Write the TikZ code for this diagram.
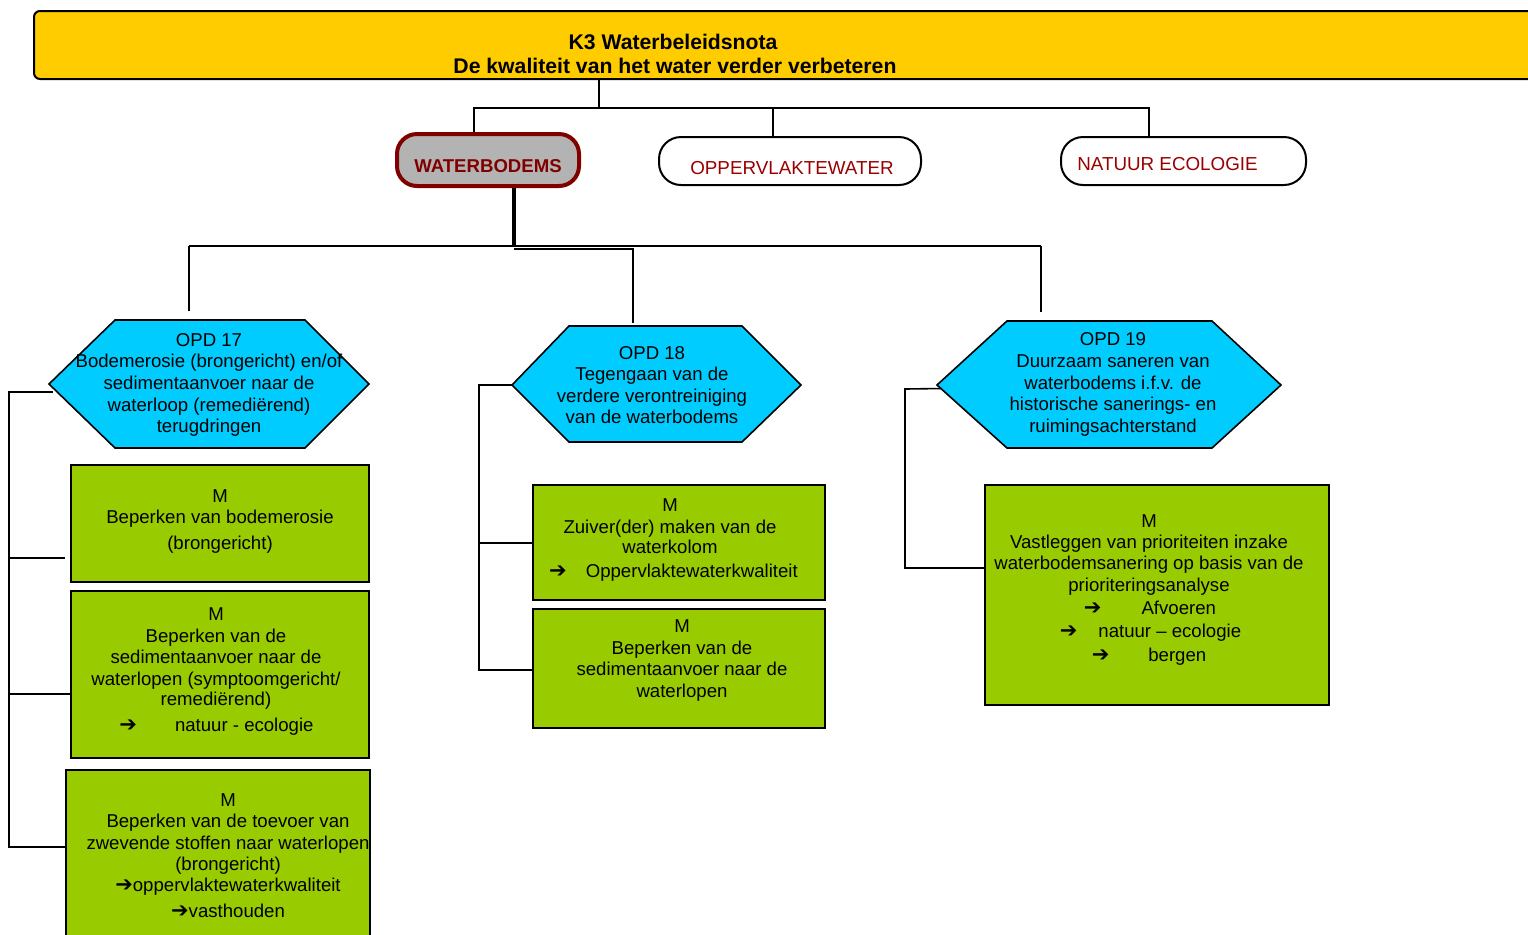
\documentclass[tikz,border=0pt]{standalone}
\usepackage{fontspec}
\setmainfont{Liberation Sans}
\newfontfamily\arrfont{DejaVu Sans}
\usetikzlibrary{calc}
\definecolor{banc}{HTML}{FFCC00}
\definecolor{hexc}{HTML}{00CCFF}
\definecolor{grn}{HTML}{99CC00}
\definecolor{dred}{HTML}{800000}
\definecolor{tred}{HTML}{990000}
\definecolor{wbg}{HTML}{B3B3B3}
\newcommand\arw{{\fontsize{10.5}{10}\arrfont\bfseries ➔}}
\newcommand\dnbox[2]{\raisebox{-#1}[\height][\depth]{#2}}
\newcommand\sh[1]{\hspace*{#1}}
\begin{document}
\begin{tikzpicture}[x=0.5pt,y=-0.5pt,
  conn/.style={draw=black,line width=0.8pt},
  thickconn/.style={draw=black,line width=2pt},
  bodyfont/.style={font=\fontsize{9.3}{10.8}\selectfont},
  hexshape/.style={draw=black,line width=0.8pt,fill=hexc,line join=miter},
  hextext/.style={bodyfont,align=center,inner sep=0pt},
  box/.style={draw=black,line width=1pt,fill=grn,rectangle,inner sep=0pt,align=center,bodyfont},
  pill/.style={rectangle,rounded corners=11pt,draw=black,line width=1pt,fill=white,inner sep=0pt,
    font=\fontsize{9.4}{11}\selectfont,text=tred,minimum height=24pt}
]
\useasboundingbox (0,0) rectangle (1528,934);

% banner
\node[draw=black,line width=1pt,fill=banc,rounded corners=3pt,minimum width=800pt,minimum height=34pt,
  inner sep=0pt,anchor=north west] (banner) at (33,10) {};
\node[font=\bfseries\fontsize{10.6}{12}\selectfont,align=center,inner sep=0pt] (title) at (675,54)
  {\sh{-2pt}K3 Waterbeleidsnota\\De kwaliteit van het water verder verbeteren};

% themes
\node[rectangle,rounded corners=10pt,draw=dred,line width=2pt,fill=wbg,minimum width=91pt,minimum height=26pt,
  inner sep=0pt,font=\bfseries\fontsize{9.3}{11}\selectfont,text=dred] (wb) at (488,160) {\dnbox{3pt}{WATERBODEMS}};
\node[pill,minimum width=131pt] (opp) at (790,161) {\kern2pt\dnbox{3.5pt}{OPPERVLAKTEWATER}};
\node[pill,minimum width=122.5pt] (nat) at (1183.5,161) {\dnbox{1.5pt}{NATUUR ECOLOGIE}\kern16pt};

% hexagons
\filldraw[hexshape] (49,384) -- (115,320) -- (305,320) -- (369,384) -- (305,448) -- (115,448) -- cycle;
\filldraw[hexshape] (512,385) -- (569,326) -- (742,326) -- (801,385) -- (742,442) -- (569,442) -- cycle;
\filldraw[hexshape] (937,385) -- (1007,321) -- (1212,321) -- (1281,385) -- (1212,448) -- (1007,448) -- cycle;

\node[hextext,minimum width=160pt,minimum height=64pt,text depth=1pt] (h17) at (209,384)
  {OPD 17\\Bodemerosie (brongericht) en/of\\sedimentaanvoer naar de\\waterloop (remediërend)\\terugdringen};
\node[hextext,minimum width=144.5pt,minimum height=58pt] (h18) at (656.5,385)
  {\sh{-4.5pt}OPD 18\\\sh{-4.5pt}Tegengaan van de\\\sh{-4.5pt}verdere verontreiniging\\\sh{-4.5pt}van de waterbodems};
\node[hextext,minimum width=172pt,minimum height=63.5pt] (h19) at (1109,384.5)
  {\sh{4pt}OPD 19\\\sh{4pt}Duurzaam saneren van\\\sh{4pt}waterbodems i.f.v. de\\\sh{4pt}historische sanerings- en\\\sh{4pt}ruimingsachterstand};

% measure boxes
\node[box,minimum width=149pt,minimum height=58.5pt,text depth=4pt] (b1) at (220,523.5)
  {M\\Beperken van bodemerosie\\[2pt](brongericht)};
\node[box,minimum width=149pt,minimum height=83.5pt,text depth=5pt] (b2) at (220,674.5)
  {\sh{-4pt}M\\\sh{-4pt}Beperken van de\\\sh{-4pt}sedimentaanvoer naar de\\\sh{-4pt}waterlopen (symptoomgericht/\\[-0.5pt]\sh{-4pt}remediërend)\\[2pt]\sh{-3.5pt}\arw\hspace{19pt}natuur - ecologie};
\node[box,minimum width=152pt,minimum height=85.5pt,anchor=north west] (b3) at (65,769)
  {\sh{10pt}M\\\sh{10pt}Beperken van de toevoer van\\\sh{10pt}zwevende stoffen naar waterlopen\\[-0.5pt]\sh{10pt}(brongericht)\\\sh{10pt}\arw oppervlaktewaterkwaliteit\\[2pt]\sh{10pt}\arw vasthouden};
\node[box,minimum width=146pt,minimum height=57.5pt,text depth=4.5pt] (b4) at (679,542.5)
  {\sh{-9pt}M\\\sh{-9pt}Zuiver(der) maken van de\\[-0.5pt]\sh{-9pt}waterkolom\\[1pt]\sh{-5.5pt}\arw\hspace{9.5pt}Oppervlaktewaterkwaliteit};
\node[box,minimum width=146pt,minimum height=59.5pt,text depth=10pt] (b5) at (679,668.5)
  {\sh{3pt}M\\\sh{3pt}Beperken van de\\\sh{3pt}sedimentaanvoer naar de\\\sh{3pt}waterlopen};
\node[box,minimum width=172pt,minimum height=110pt,text depth=7pt] (b6) at (1157,595)
  {\sh{-8pt}M\\[-0.5pt]\sh{-8pt}Vastleggen van prioriteiten inzake\\\sh{-8pt}waterbodemsanering op basis van de\\\sh{-8pt}prioriteringsanalyse\\[0.5pt]
   \sh{-7pt}\arw\hspace{20pt}Afvoeren\\[1pt]\sh{-6.5pt}\arw\hspace{10.5pt}natuur – ecologie\\[1pt]\sh{-8pt}\arw\hspace{19.5pt}bergen};

% top connectors
\draw[conn] (banner.south -| 599,0) -- (599,108);
\draw[conn] (wb.north -| 474,0) |- (1149,108) -- (nat.north -| 1149,0);
\draw[conn] (773,108) -- (opp.north -| 773,0);

% waterbodems to objectives
\draw[thickconn] (wb.south -| 514,0) -- (514,247);
\draw[conn,shorten >=4.5pt] (189,246) -- (h17.north -| 189,0);
\draw[conn] (189,246) -- (1041,246);
\draw[conn,shorten >=4.5pt] (1041,246) -- (h19.north -| 1041,0);
\draw[conn,shorten >=2pt] (514,249) -| (h18.north -| 633,0);

% left brackets
\coordinate (t17a) at (9,392);
\coordinate (t17b) at (9,847);
\draw[conn] ([xshift=2pt,yshift=-4pt]h17.west) -- (t17a) -- (t17b) -- (b3.west |- t17b);
\draw[conn] (9,558) -- ([xshift=-2.5pt]b1.west |- 0,558);
\draw[conn] (9,694) -- (b2.west |- 0,694);

\coordinate (t18a) at (479,385);
\coordinate (t18b) at (479,670);
\draw[conn] (h18.west) -- (t18a) -- (t18b) -- (b5.west |- t18b);
\draw[conn] (479,543) -- (b4.west |- 0,543);

\coordinate (t19a) at (905,389);
\coordinate (t19b) at (905,568);
\draw[conn] ([xshift=2.5pt,yshift=-2pt]h19.west) -- (t19a) -- (t19b) -- (b6.west |- t19b);
\end{tikzpicture}
\end{document}
